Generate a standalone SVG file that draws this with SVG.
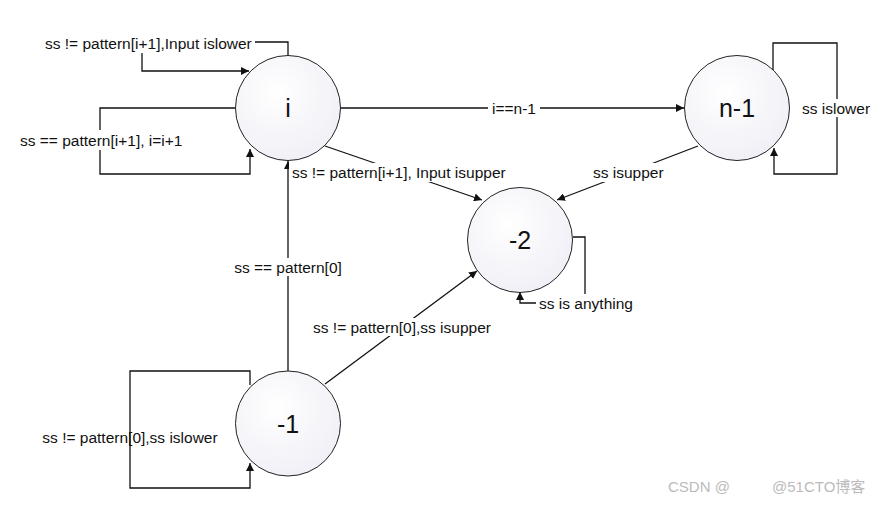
<svg xmlns="http://www.w3.org/2000/svg" width="881" height="506" viewBox="0 0 881 506">
<style>
.n{stroke:#222;stroke-width:1;fill:url(#g)}
.nt{font-family:"Liberation Sans",Arial,sans-serif;font-size:25px;text-anchor:middle;dominant-baseline:central;fill:#111}
.e{stroke:#111;stroke-width:1.3;fill:none}
.a{marker-end:url(#ar)}
.l{font-family:"Liberation Sans",Arial,sans-serif;font-size:15.5px;fill:#111;dominant-baseline:central}
.bg{fill:#fff}
.wm{font-family:"Liberation Sans","Noto Sans CJK SC",sans-serif;font-size:15px;fill:#bbb}
</style>
<defs>
<radialGradient id="g" cx="0.4" cy="0.35" r="0.7">
<stop offset="0" stop-color="#ffffff"/>
<stop offset="1" stop-color="#efeff6"/>
</radialGradient>
<marker id="ar" viewBox="0 0 10 10" refX="10" refY="5" markerWidth="8" markerHeight="8" markerUnits="userSpaceOnUse" orient="auto">
<path d="M0,0 L10,5 L0,10 z" fill="#111"/>
</marker>
</defs>
<rect width="881" height="506" fill="#fff"/>
<g id="connectors">
<path class="e" d="M288,56 V42 H255"/>
<path class="e a" d="M142,53 V71 H249"/>
<path class="e a" d="M235,108 H100 V174 H250 V149"/>
<path class="e a" d="M340,108 H684"/>
<path class="e a" d="M773,71 V43 H837 V174 H774 V148"/>
<path class="e a" d="M325,146 L482,200"/>
<path class="e a" d="M698,146 L557,200"/>
<path class="e a" d="M573,237 H585 V303 H520 V292"/>
<path class="e a" d="M288,371 V161"/>
<path class="e a" d="M325,384 L477,271"/>
<path class="e a" d="M250,385 V371 H130 V488 H250 V463"/>
<rect class="bg" x="17" y="130" width="172" height="20"/>
<rect class="bg" x="488" y="100" width="52" height="16"/>
<rect class="bg" x="798" y="99" width="76" height="18"/>
<rect class="bg" x="289" y="163" width="230" height="19"/>
<rect class="bg" x="590" y="163" width="78" height="19"/>
<rect class="bg" x="536" y="294" width="100" height="18"/>
<rect class="bg" x="229" y="258" width="118" height="18"/>
<rect class="bg" x="308" y="318" width="188" height="18"/>
<text class="l" x="45" y="43">ss != pattern[i+1],Input islower</text>
<text class="l" x="20" y="140">ss == pattern[i+1], i=i+1</text>
<text class="l" x="514" y="108" text-anchor="middle">i==n-1</text>
<text class="l" x="802" y="108">ss islower</text>
<text class="l" x="292" y="172">ss != pattern[i+1], Input isupper</text>
<text class="l" x="593" y="172">ss isupper</text>
<text class="l" x="586" y="303" text-anchor="middle">ss is anything</text>
<text class="l" x="288" y="267" text-anchor="middle">ss == pattern[0]</text>
<text class="l" x="402" y="327" text-anchor="middle">ss != pattern[0],ss isupper</text>
<text class="l" x="130" y="437" text-anchor="middle">ss != pattern[0],ss islower</text>
</g>
<g id="node-i"><circle class="n" cx="288" cy="108" r="52.5"/><text class="nt" x="288" y="108">i</text></g>
<g id="node-n1"><circle class="n" cx="737" cy="108" r="52.5"/><text class="nt" x="737" y="108">n-1</text></g>
<g id="node-m2"><circle class="n" cx="520" cy="240" r="52.5"/><text class="nt" x="520" y="240">-2</text></g>
<g id="node-m1"><circle class="n" cx="288" cy="423.5" r="52.5"/><text class="nt" x="288" y="423.5">-1</text></g>
<text class="wm" x="668" y="492">CSDN @</text>
<text class="wm" x="772" y="492" fill="#999">@51CTO博客</text>
</svg>
